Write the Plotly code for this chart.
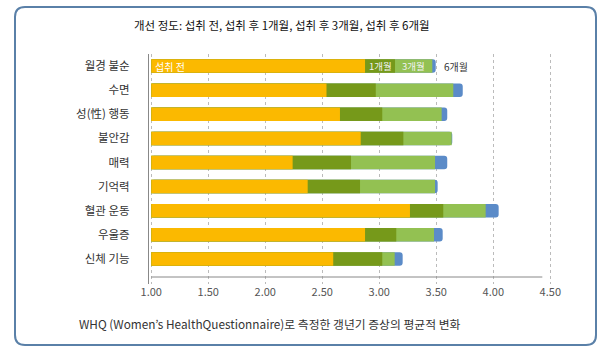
import plotly.graph_objects as go

categories = ["월경 불순", "수면", "성(性) 행동", "불안감", "매력", "기억력", "혈관 운동", "우울증", "신체 기능"]
before = [2.875, 2.537, 2.655, 2.837, 2.240, 2.372, 3.269, 2.875, 2.596]
month1 = [3.138, 2.969, 3.026, 3.211, 2.752, 2.831, 3.561, 3.149, 3.026]
month3 = [3.465, 3.649, 3.547, 3.635, 3.489, 3.489, 3.933, 3.480, 3.135]
month6 = [3.495, 3.732, 3.596, 3.640, 3.596, 3.512, 4.047, 3.556, 3.205]
series_names = ["섭취 전", "1개월", "3개월", "6개월"]
tick_vals = [1.0, 1.5, 2.0, 2.5, 3.0, 3.5, 4.0, 4.5]
tick_text = ["1.00", "1.50", "2.00", "2.50", "3.00", "3.50", "4.00", "4.50"]
baseline = 1.0

title_text = "개선 정도: 섭취 전, 섭취 후 1개월, 섭취 후 3개월, 섭취 후 6개월"
footer_text = "WHQ (Women’s HealthQuestionnaire)로 측정한 갱년기 증상의 평균적 변화"

colors = ["#FBB900", "#76991A", "#93C152", "#5B8BC8"]
FONT = "Noto Sans CJK KR"

W, H = 611, 352
L, R, T, B = 149, 55, 54, 68

fig = go.Figure()
# draw from longest (back) to shortest (front)
for vals, name, col, cr in [(month6, series_names[3], colors[3], 3),
                             (month3, series_names[2], colors[2], 0),
                             (month1, series_names[1], colors[1], 0),
                             (before, series_names[0], colors[0], 0)]:
    fig.add_trace(go.Bar(
        y=categories, x=[v - baseline for v in vals], base=baseline,
        orientation="h", name=name, marker=dict(color=col, line=dict(width=0), cornerradius=cr),
        width=0.56, showlegend=False, hoverinfo="skip"))

# in-bar labels on first row
fig.add_annotation(x=baseline, y=categories[0], text=series_names[0], showarrow=False,
                   xanchor="left", xshift=2, font=dict(family=FONT, size=10, color="white"))
fig.add_annotation(x=(before[0] + month1[0]) / 2, y=categories[0], text=series_names[1], showarrow=False,
                   font=dict(family=FONT, size=9.5, color="#F2F2F2"))
fig.add_annotation(x=(month1[0] + month3[0]) / 2, y=categories[0], text=series_names[2], showarrow=False,
                   font=dict(family=FONT, size=9.5, color="#F2F2F2"))
fig.add_annotation(x=month6[0], y=categories[0], text=series_names[3], showarrow=False,
                   xanchor="left", xshift=6, font=dict(family=FONT, size=10, color="#333333"))

# title and footer
fig.add_annotation(xref="paper", yref="paper", x=(282 - L) / (W - L - R), y=1 + (T - 25) / (H - T - B),
                   text=title_text, showarrow=False, xanchor="center", yanchor="middle",
                   font=dict(family=FONT, size=11.5, color="#111111"))
fig.add_annotation(xref="paper", yref="paper", x=(77 - L) / (W - L - R), y=-(323 - (H - B)) / (H - T - B),
                   text=footer_text, showarrow=False, xanchor="left", yanchor="middle",
                   font=dict(family=FONT, size=11.8, color="#333333"))

# bottom axis line
fig.add_shape(type="line", xref="x", yref="y", x0=baseline, x1=4.43, y0=8.75, y1=8.75,
              line=dict(color="#888888", width=1))

# rounded frame in paper coords
def px(x):
    return (x - L) / (W - L - R)

def py(y):
    return 1 - (y - T) / (H - T - B)

x0, x1, y0, y1, r = 15, 596, 7, 345, 10
path = (f"M {px(x0 + r)},{py(y0)} L {px(x1 - r)},{py(y0)} "
        f"Q {px(x1)},{py(y0)} {px(x1)},{py(y0 + r)} L {px(x1)},{py(y1 - r)} "
        f"Q {px(x1)},{py(y1)} {px(x1 - r)},{py(y1)} L {px(x0 + r)},{py(y1)} "
        f"Q {px(x0)},{py(y1)} {px(x0)},{py(y1 - r)} L {px(x0)},{py(y0 + r)} "
        f"Q {px(x0)},{py(y0)} {px(x0 + r)},{py(y0)} Z")
fig.add_shape(type="path", xref="paper", yref="paper", path=path,
              line=dict(color="#5A80A8", width=2))

fig.update_layout(
    width=W, height=H, barmode="overlay",
    margin=dict(l=L, r=R, t=T, b=B),
    paper_bgcolor="white", plot_bgcolor="white",
    font=dict(family=FONT, color="#333333"),
    xaxis=dict(range=[0.98, 4.55], tickvals=tick_vals, ticktext=tick_text,
               showgrid=True, gridcolor="#BBBBBB", griddash="dot", gridwidth=1,
               zeroline=False, showline=False, ticks="",
               tickfont=dict(family=FONT, size=11, color="#555555")),
    yaxis=dict(categoryorder="array", categoryarray=categories, range=[9.04, -0.5],
               showline=True, linecolor="#888888", linewidth=1, ticks="",
               showgrid=False, zeroline=False, ticklabelstandoff=16,
               tickfont=dict(family=FONT, size=11.5, color="#333333")),
)

fig.write_html("out.html")
